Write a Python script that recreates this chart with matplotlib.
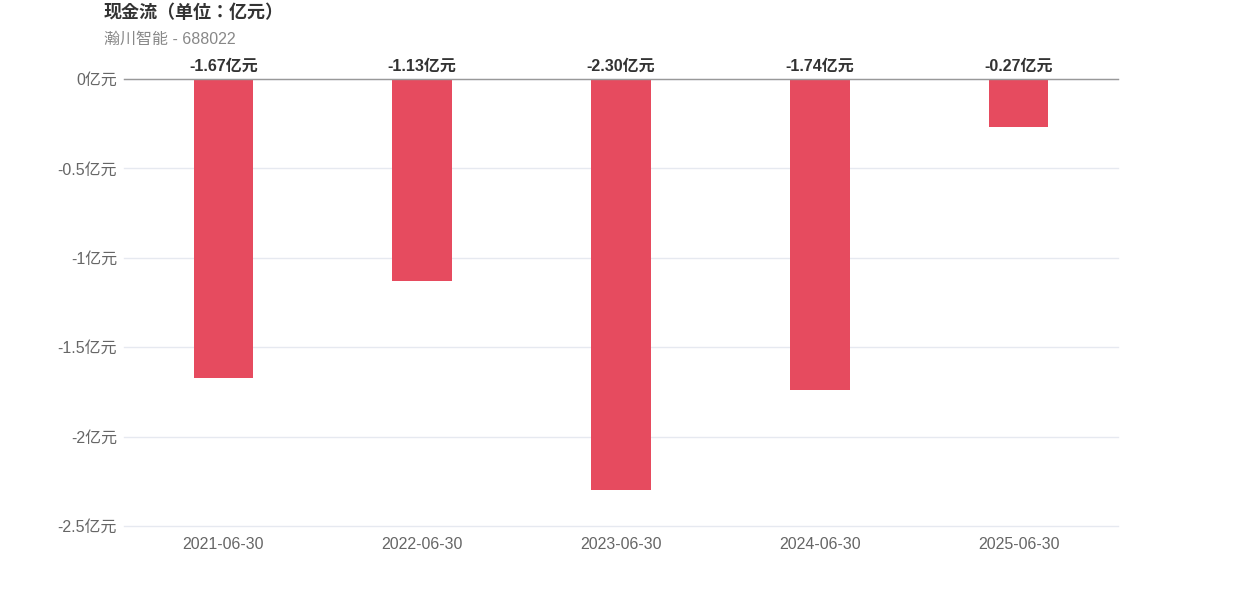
import matplotlib
matplotlib.use("Agg")
import matplotlib.pyplot as plt

# data (亿元)
dates = ["2021-06-30", "2022-06-30", "2023-06-30", "2024-06-30", "2025-06-30"]
cash_flow = [-1.67, -1.13, -2.30, -1.74, -0.27]
y_ticks = [0, -0.5, -1, -1.5, -2, -2.5]
y_tick_labels = ["0亿元", "-0.5亿元", "-1亿元", "-1.5亿元", "-2亿元", "-2.5亿元"]

plt.rcParams["font.family"] = ["Liberation Sans", "Noto Sans CJK SC", "DejaVu Sans"]

BAR_COLOR = "#E64B5F"
TEXT_GRAY = "#666666"

fig = plt.figure(figsize=(12.42, 5.96), dpi=100)
ax = fig.add_axes([124 / 1242, 1 - 526 / 596, (1118 - 124) / 1242, (526 - 79) / 596])

x = range(len(dates))
ax.bar(x, cash_flow, width=0.30, color=BAR_COLOR, zorder=3)

for xi, v in zip(x, cash_flow):
    ax.annotate(f"{v:.2f}亿元", xy=(xi, 0), xytext=(0, 4), textcoords="offset points",
                ha="center", va="bottom", fontsize=11.5, fontweight="bold", color="#333333")

ax.set_xlim(-0.5, len(dates) - 0.5)
ax.set_ylim(-2.5, 0)
ax.set_yticks(y_ticks)
ax.set_yticklabels(y_tick_labels, fontsize=11.5, color=TEXT_GRAY)
ax.set_xticks(list(x))
ax.set_xticklabels(dates, fontsize=11.5, color=TEXT_GRAY)
ax.tick_params(axis="both", length=0)
ax.tick_params(axis="y", pad=5)
ax.tick_params(axis="x", pad=8)

ax.grid(axis="y", color="#E6E9F0", linewidth=1, zorder=0)
for line in ax.get_ygridlines():
    line.set_clip_on(False)
for side in ["left", "right", "bottom"]:
    ax.spines[side].set_visible(False)
ax.spines["top"].set_color("#999999")
ax.spines["top"].set_linewidth(1)
ax.spines["top"].set_zorder(4)

fig.text(104 / 1242, 1 - 13 / 596, "现金流（单位：亿元）", fontsize=13, fontweight="bold",
         color="#333333", ha="left", va="center",
         family=["Liberation Sans", "Noto Sans CJK JP"])
fig.text(104 / 1242, 1 - 39 / 596, "瀚川智能 - 688022", fontsize=11.5, color="#888888",
         ha="left", va="center")

fig.savefig("out.png", dpi=100, facecolor="white")
